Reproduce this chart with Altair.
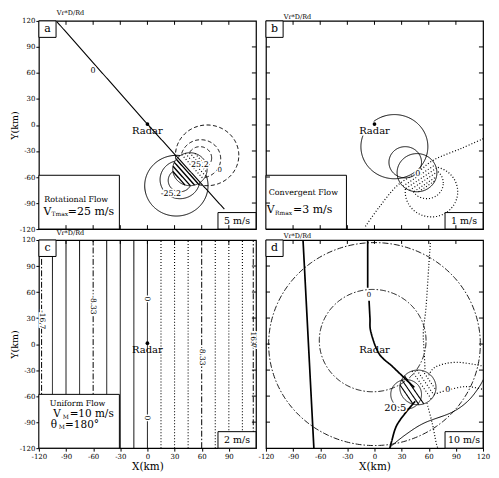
import altair as alt
import numpy as np
import pandas as pd

FONT = "DejaVu Serif"
DOM = [-120, 120]
TICKS = [-120, -90, -60, -30, 0, 30, 60, 90, 120]
TICKS_C = [-120, -90, -60, -30, 0, 30, 60, 90]
INNER_TICKS = [-90, -60, -30, 0, 30, 60, 90]
W, H = 218, 209

# ---------------- data (km) ----------------
# panel a : rotational flow
A_LINE_X = [-100, 0, 85]
A_LINE_Y = [119, 1, -97]
A_CORE = (47, -51, 19)
A_CIRC_X = [66, 59, 58, 32, 36, 36]
A_CIRC_Y = [-35, -39, -38, -70, -63, -64]
A_CIRC_R = [35, 22, 13, 35, 22, 13]
A_CIRC_S = ["dash", "dash", "dash", "solid", "solid", "solid"]
A_HATCH_D = [-16, -12, -8, -4, 4, 8, 12, 16]
A_HATCH_S = ["solid", "solid", "solid", "solid", "dot", "dot", "dot", "dot"]

# panel b : convergent flow
B_CORE = (47, -55, 22)
B_CIRC_X = [22, 34, 63, 58]
B_CIRC_Y = [-25, -43, -77, -67]
B_CIRC_R = [37, 18, 29, 18]
B_CIRC_S = ["solid", "solid", "dot", "dot"]
B_CIRC_A0 = [160, 0, 0, 0]
B_CIRC_A1 = [488, 360, 360, 360]
B_ZERO_X = [-10, 5, 25, 47, 66, 96, 122]
B_ZERO_Y = [-117, -95, -70, -55, -40, -27, -15]
B_HATCH_D = [4, 8, 12, 16, 19]

# panel c : uniform flow
C_SOLID_X = [-105, -90, -75, -45, -30, -15, 0]
C_DASHDOT_X = [-117, -60, 60, 117]
C_DOT_X = [15, 30, 45, 75, 90, 105]
C_LABELS = ["-16.7", "-8.33", "0", "0", "8.33", "16.7"]
C_LABEL_X = [-117, -60, 0, 0, 60, 117]
C_LABEL_Y = [28, 45, 52, -85, -15, 5]

# panel d : combined flow
D_THICK = [
    ([-79, -76, -73, -70, -67], [120, 60, 0, -60, -120]),
    ([-7.5, -7.5], [120, 65]),
    ([-6, -5, -4, 5, 20, 34, 44], [50, 30, 14, -11, -26, -40, -50]),
    ([45, 33, 24, 19, 17], [-66, -81, -95, -112, -120]),
]
D_THIN = [([18, 35, 55, 85, 103, 116, 123], [-118, -104, -91, -79, -66, -49, -35])]
D_DOTTED = [
    ([62, 60, 57, 54, 55, 56], [120, 90, 43, 14, -10, -31]),
    ([58, 64, 68, 70], [-68, -92, -113, -120]),
    ([60, 68, 91, 123], [-36, -26, -21, -26]),
    ([66, 81, 102, 123], [-58, -53, -49, -53]),
]
D_CIRC_X = [0, -2, 48, 35]
D_CIRC_Y = [0, 4, -50, -58]
D_CIRC_R = [117, 59, 20, 17]
D_CIRC_S = ["dashdot", "dashdot", "solid", "solid"]
D_CORE = (48, -50, 20)
D_HATCH_D = [-15, -10, -5, 5, 10, 15]
D_HATCH_S = ["solid", "solid", "solid", "dot", "dot", "dot"]

DASHES = {"solid": [1, 0], "dash": [4, 2.5], "dot": [1, 2], "dashdot": [6, 2, 1.5, 2]}


# ---------------- helpers ----------------
def circle(cx, cy, r, n=200, a0=0.0, a1=360.0):
    t = np.radians(np.linspace(a0, a1, n))
    return list(cx + r * np.cos(t)), list(cy + r * np.sin(t))


def outside(xs, ys, core):
    cx, cy, R = core
    segs, cur = [], []
    for x, y in zip(xs, ys):
        if (x - cx) ** 2 + (y - cy) ** 2 >= R * R:
            cur.append((x, y))
        else:
            if len(cur) > 1:
                segs.append(cur)
            cur = []
    if len(cur) > 1:
        segs.append(cur)
    return [([p[0] for p in s], [p[1] for p in s]) for s in segs]


def chords(core, offsets, u):
    cx, cy, R = core
    un = np.array(u) / np.hypot(*u)
    nn = np.array([-un[1], un[0]])
    out = []
    for d in offsets:
        h = np.sqrt(max(R * R - d * d, 0))
        p = np.array([cx, cy]) + d * nn
        a, b = p - h * un, p + h * un
        out.append(([a[0], b[0]], [a[1], b[1]]))
    return out


def to_df(items):
    rows = []
    for i, (xs, ys, dash, w) in enumerate(items):
        for j, (x, y) in enumerate(zip(xs, ys)):
            rows.append(dict(x=float(x), y=float(y), cid=i, ord=j, dash=dash, w=w))
    return pd.DataFrame(rows)


XS = alt.Scale(domain=DOM, nice=False, zero=False)
YS = alt.Scale(domain=DOM, nice=False, zero=False)


def axis_y():
    return alt.Axis(values=TICKS, tickSize=3, tickColor="black", labelFont=FONT, labelFontSize=7,
                    labelColor="black", labelPadding=1, labelFlush=False, labelExpr="'' + datum.value",
                    title="Y(km)", titleFont=FONT, titleFontSize=9.5, titleFontWeight="normal",
                    titleColor="black", titlePadding=0, domain=False, grid=False)


def axis_x(vals):
    return alt.Axis(values=vals, tickSize=3, tickColor="black", labelFont=FONT, labelFontSize=7,
                    labelColor="black", labelPadding=1, labelFlush=False, labelExpr="'' + datum.value",
                    title="X(km)", titleFont=FONT, titleFontSize=10.5, titleFontWeight="normal",
                    titleColor="black", titlePadding=2, domain=False, grid=False)


def enc_xy(ax):
    return dict(x=alt.X("x:Q", scale=XS, axis=ax[0]), y=alt.Y("y:Q", scale=YS, axis=ax[1]))


def line_layer(items, interp, ax):
    df = to_df(items)
    return alt.Chart(df).mark_line(clip=True, color="black", interpolate=interp).encode(
        **enc_xy(ax),
        detail="cid:N",
        order="ord:Q",
        strokeDash=alt.StrokeDash("dash:N", scale=alt.Scale(domain=list(DASHES.keys()),
                                                            range=list(DASHES.values())), legend=None),
        strokeWidth=alt.StrokeWidth("w:Q", scale=None),
    )


def rect_layer(rects, ax):
    df = pd.DataFrame(rects, columns=["x", "x2", "y", "y2"])
    return alt.Chart(df).mark_rect(fill="white", stroke="black", strokeWidth=1).encode(
        **enc_xy(ax), x2="x2:Q", y2="y2:Q")


def text_layer(rows, ax, align="center", halo=False):
    df = pd.DataFrame(rows, columns=["x", "y", "t", "s", "a"])
    kw = dict(font=FONT, align=align, baseline="middle", color="black")
    if halo:
        kw.update(stroke="white", strokeWidth=3, color="white")
    return alt.Chart(df).mark_text(**kw).encode(
        **enc_xy(ax), text="t:N", size=alt.Size("s:Q", scale=None), angle=alt.Angle("a:Q", scale=None))


def tick_layer(sides, ax):
    L = 4.5
    rows = []
    for v in INNER_TICKS:
        if "top" in sides:
            rows.append((v, v, 120, 120 - L))
        if "bottom" in sides:
            rows.append((v, v, -120, -120 + L))
        if "left" in sides:
            rows.append((-120, -120 + L, v, v))
        if "right" in sides:
            rows.append((120, 120 - L, v, v))
    df = pd.DataFrame(rows, columns=["x", "x2", "y", "y2"])
    return alt.Chart(df).mark_rule(color="black", strokeWidth=1).encode(
        **enc_xy(ax), x2="x2:Q", y2="y2:Q")


def dot_layer(pts, ax):
    df = pd.DataFrame(pts, columns=["x", "y"])
    return alt.Chart(df).mark_point(filled=True, color="black", size=14, opacity=1).encode(**enc_xy(ax))


def panel(letter, lin, cur, labels, info_rows, scale_txt, xaxis, yaxis, sides, radar_dot=True):
    ax = (xaxis, yaxis)
    layers = [line_layer(lin, "linear", ax)]
    if cur:
        layers.append(line_layer(cur, "cardinal", ax))
    if labels:
        layers.append(text_layer(labels, ax, halo=True))
        layers.append(text_layer(labels, ax))
    boxes = [(-120, -101, 120, 101), (78, 120, -120, -101)]
    if info_rows:
        boxes.append((-120, -31, -120, -58))
    layers.append(rect_layer(boxes, ax))
    layers.append(text_layer([(-110.5, 110.5, letter, 11, 0), (99, -110.5, scale_txt, 9.5, 0),
                              (0, -7, "Radar", 10, 0)], ax))
    if info_rows:
        layers.append(text_layer(info_rows, ax, align="left"))
    if radar_dot:
        layers.append(dot_layer([(0, 1)], ax))
    layers.append(tick_layer(sides, ax))
    return alt.layer(*layers).properties(
        width=W, height=H,
        title=alt.TitleParams("Vr*D/Rd", anchor="start", frame="group", font=FONT, fontSize=6.5,
                              fontWeight="normal", color="black", offset=0, dx=18))


# ---------------- panel a ----------------
a_lin = [(A_LINE_X, A_LINE_Y, "solid", 1.1)]
for cx, cy, r, s in zip(A_CIRC_X, A_CIRC_Y, A_CIRC_R, A_CIRC_S):
    xs, ys = circle(cx, cy, r)
    for sx, sy in outside(xs, ys, A_CORE):
        a_lin.append((sx, sy, s, 1.0))
xs, ys = circle(*A_CORE)
a_lin.append((xs, ys, "solid", 0.9))
for (hx, hy), s in zip(chords(A_CORE, A_HATCH_D, (1, -1.17)), A_HATCH_S):
    a_lin.append((hx, hy, s, 1.4 if s == "solid" else 1.2))
a_labels = [(-60, 62, "0", 8, 0), (58, -46, "25.2", 8, 0), (26, -80, "-25.2", 8, 0), (80, -52, "0", 7, 0)]
a_info = [(-114, -86, "Rotational Flow", 8, 0), (-115, -100, "V", 11, 0), (-106, -103, "Tmax", 6, 0),
          (-88, -100, "=25 m/s", 11, 0)]
pa = panel("a", a_lin, [], a_labels, a_info, "5 m/s", None, axis_y(), ["top", "right", "bottom"])

# ---------------- panel b ----------------
b_cur = [(B_ZERO_X, B_ZERO_Y, "dot", 1.2)]
b_lin = []
xs, ys = circle(*B_CORE)
b_lin.append((xs, ys, "solid", 1.0))
for cx, cy, r, s, a0, a1 in zip(B_CIRC_X, B_CIRC_Y, B_CIRC_R, B_CIRC_S, B_CIRC_A0, B_CIRC_A1):
    xs, ys = circle(cx, cy, r, a0=a0, a1=a1)
    if s == "dot":
        for sx, sy in outside(xs, ys, B_CORE):
            b_lin.append((sx, sy, s, 1.2))
    else:
        b_lin.append((xs, ys, s, 1.0))
for hx, hy in chords(B_CORE, [-d for d in B_HATCH_D], (0.82, 0.57)):
    b_lin.append((hx, hy, "dot", 1.1))
b_labels = [(48, -57, "0", 8, 0)]
b_info = [(-117, -79, "Convergent Flow", 8, 0), (-119, -98, "V", 11, 0), (-110, -101, "Rmax", 6, 0),
          (-90, -98, "=3 m/s", 11, 0)]
pb = panel("b", b_lin, b_cur, b_labels, b_info, "1 m/s", None, None, ["top", "right", "bottom", "left"])

# ---------------- panel c ----------------
c_lin = []
for xv in C_SOLID_X:
    c_lin.append(([xv, xv], [-120, 120], "solid", 1.0))
for xv in C_DASHDOT_X:
    c_lin.append(([xv, xv], [-120, 120], "dashdot", 1.0))
for xv in C_DOT_X:
    c_lin.append(([xv, xv], [-120, 120], "dot", 1.1))
c_labels = [(x, y, t, 7.5, 90) for x, y, t in zip(C_LABEL_X, C_LABEL_Y, C_LABELS)]
c_info = [(-108, -69, "Uniform Flow", 8, 0), (-104, -81, "V", 10.5, 0), (-93.5, -84, "M", 6, 0),
          (-86, -81, "=10 m/s", 10.5, 0), (-107, -93, "\u03b8", 10.5, 0), (-98, -96, "M", 6, 0),
          (-91, -93, "=180\u00b0", 10.5, 0)]
pc = panel("c", c_lin, [], c_labels, c_info, "2 m/s", axis_x(TICKS_C), axis_y(), ["top", "right"])

# ---------------- panel d ----------------
d_cur = [(x, y, "solid", 1.7) for x, y in D_THICK] + [(x, y, "solid", 1.0) for x, y in D_THIN] + \
        [(x, y, "dot", 1.2) for x, y in D_DOTTED]
d_lin = []
for cx, cy, r, s in zip(D_CIRC_X, D_CIRC_Y, D_CIRC_R, D_CIRC_S):
    xs, ys = circle(cx, cy, r, n=360)
    d_lin.append((xs, ys, s, 0.9))
for (hx, hy), s in zip(chords(D_CORE, D_HATCH_D, (0.55, -0.835)), D_HATCH_S):
    d_lin.append((hx, hy, s, 1.1))
d_labels = [(23, -74, "20.5", 10, 0), (-6, 57, "0", 7, 0), (81, -53, "0", 8, 0)]
pd_ = panel("d", d_lin, d_cur, d_labels, [], "10 m/s", axis_x(TICKS), None, ["top", "right", "left"],
            radar_dot=False)

chart = alt.concat(
    pa, pb, pc, pd_, columns=2, bounds="flush",
    spacing=alt.RowColnumber(row=11, column=10),
).properties(padding=0).configure_view(stroke="black", strokeWidth=1.2)

chart.save("out.html", embed_options={"renderer": "svg", "actions": False})
